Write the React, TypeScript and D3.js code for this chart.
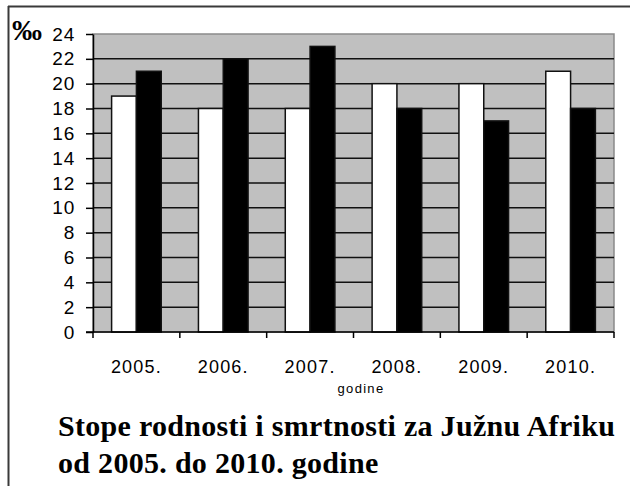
import React, { useRef, useEffect } from 'react';
import * as d3 from 'd3';

const years = ['2005.', '2006.', '2007.', '2008.', '2009.', '2010.'];
const birthRates = [19, 18, 18, 20, 20, 21];
const deathRates = [21, 22, 23, 18, 17, 18];
const yTicks = [0, 2, 4, 6, 8, 10, 12, 14, 16, 18, 20, 22, 24];
const seriesKeys = ['birth', 'death'];
const titleLines = ['Stope rodnosti i smrtnosti za Južnu Afriku', 'od 2005. do 2010. godine'];

const SANS = "'Liberation Sans', Arial, sans-serif";
const SERIF = "'Liberation Serif', 'Times New Roman', serif";

const App = () => {
  const svgRef = useRef<SVGSVGElement>(null);

  useEffect(() => {
    const svg = d3.select(svgRef.current);
    svg.selectAll('*').remove();

    const W = 630;
    const H = 486;
    const plot = { left: 93, top: 34, right: 614, bottom: 332 };

    // outer frame (top + left visible)
    svg.append('line').attr('x1', 8).attr('x2', W).attr('y1', 6.5).attr('y2', 6.5)
      .attr('stroke', '#3a3a3a').attr('stroke-width', 2);
    svg.append('line').attr('x1', 8.5).attr('x2', 8.5).attr('y1', 6).attr('y2', H)
      .attr('stroke', '#3a3a3a').attr('stroke-width', 2);

    const x = d3.scaleBand().domain(years).range([plot.left, plot.right]).paddingInner(0).paddingOuter(0);
    const inner = d3.scaleBand().domain(seriesKeys).range([0, x.bandwidth()]).paddingOuter(0.75).paddingInner(0);
    const y = d3.scaleLinear().domain([0, 24]).range([plot.bottom, plot.top]);

    svg.append('rect')
      .attr('x', plot.left).attr('y', plot.top)
      .attr('width', plot.right - plot.left).attr('height', plot.bottom - plot.top)
      .attr('fill', '#c0c0c0').attr('stroke', '#8a8a8a').attr('stroke-width', 1.5);

    svg.append('g')
      .selectAll('line')
      .data(yTicks.filter(t => t > 0 && t < 24))
      .enter().append('line')
      .attr('x1', plot.left).attr('x2', plot.right)
      .attr('y1', d => y(d)).attr('y2', d => y(d))
      .attr('stroke', '#111').attr('stroke-width', 1.5);

    const data = years.map((yr, i) => ({ yr, birth: birthRates[i], death: deathRates[i] }));

    const groups = svg.append('g').selectAll('g')
      .data(data)
      .enter().append('g')
      .attr('transform', d => `translate(${x(d.yr)},0)`);

    groups.selectAll('rect')
      .data(d => seriesKeys.map(k => ({ k, v: (d as any)[k] as number })))
      .enter().append('rect')
      .attr('x', d => inner(d.k)!)
      .attr('y', d => y(d.v))
      .attr('width', inner.bandwidth())
      .attr('height', d => plot.bottom - y(d.v))
      .attr('fill', d => (d.k === 'birth' ? '#ffffff' : '#000000'))
      .attr('stroke', '#111').attr('stroke-width', 1.5);

    // y axis
    const yAxis = svg.append('g')
      .attr('transform', `translate(${plot.left},0)`)
      .call(d3.axisLeft(y).tickValues(yTicks).tickSize(7).tickPadding(11).tickSizeOuter(0));
    yAxis.select('.domain').attr('stroke', '#000').attr('stroke-width', 1.5);
    yAxis.selectAll('.tick line').attr('stroke', '#000').attr('stroke-width', 1.5);
    yAxis.selectAll('.tick text')
      .style('font-family', SANS)
      .style('font-size', '19px').style('letter-spacing', '0.8px').attr('fill', '#000');

    // x axis
    const xAxis = svg.append('g')
      .attr('transform', `translate(0,${plot.bottom})`);
    xAxis.append('line')
      .attr('x1', plot.left - 7).attr('x2', plot.right)
      .attr('stroke', '#000').attr('stroke-width', 1.5);
    xAxis.selectAll('.xt')
      .data([...years.map(v => x(v)!), plot.right])
      .enter().append('line')
      .attr('x1', d => d).attr('x2', d => d)
      .attr('y1', 0).attr('y2', 6)
      .attr('stroke', '#000').attr('stroke-width', 1.5);
    xAxis.selectAll('text')
      .data(years)
      .enter().append('text')
      .attr('x', d => x(d)! + x.bandwidth() / 2)
      .attr('y', 41)
      .attr('text-anchor', 'middle')
      .style('font-family', SANS)
      .style('font-size', '18px').style('letter-spacing', '1.2px')
      .text(d => d);

    svg.append('text')
      .attr('x', 361).attr('y', 393)
      .attr('text-anchor', 'middle')
      .style('font-family', SANS)
      .style('font-size', '13px').style('letter-spacing', '1.3px')
      .text('godine');

    svg.append('text')
      .attr('x', 12).attr('y', 40)
      .style('font-family', SERIF)
      .style('font-weight', 'bold').style('font-size', '30px')
      .text('‰');

    svg.append('g').selectAll('text')
      .data(titleLines)
      .enter().append('text')
      .attr('x', 58).attr('y', (d, i) => 436 + i * 37)
      .style('font-family', SERIF)
      .style('font-weight', 'bold').style('font-size', '30px').style('letter-spacing', '0.3px')
      .text(d => d);
  }, []);

  return (
    <svg ref={svgRef} width={630} height={486}
      style={{ position: 'absolute', left: 0, top: 0, background: '#fff' }} />
  );
};

export default App;
